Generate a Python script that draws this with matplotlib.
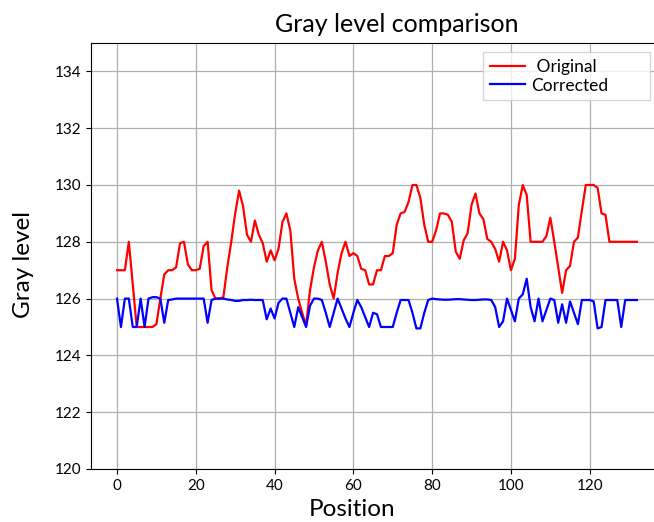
import numpy as np
import matplotlib.pyplot as plt

# gray level along the scan line, before and after correction
original = [127.0, 127.0, 127.0, 128.0, 126.5, 125.0, 125.0, 125.0, 125.0, 125.0,
            125.1, 126.0, 126.85, 127.0, 127.0, 127.1, 127.95, 128.0, 127.2, 127.0,
            127.0, 127.05, 127.85, 128.0, 126.3, 126.0, 126.0, 126.05, 127.1, 128.0,
            129.0, 129.8, 129.25, 128.25, 128.0, 128.75, 128.25, 127.95, 127.3, 127.7,
            127.35, 127.75, 128.7, 129.0, 128.4, 126.7, 126.0, 125.5, 125.05, 126.3,
            127.1, 127.7, 128.0, 127.3, 126.5, 126.0, 126.9, 127.6, 128.0, 127.5,
            127.6, 127.5, 127.05, 127.0, 126.5, 126.5, 127.0, 127.0, 127.5, 127.5,
            127.6, 128.6, 129.0, 129.05, 129.4, 130.0, 130.0, 129.55, 128.6, 128.0,
            128.0, 128.4, 129.0, 129.0, 128.95, 128.7, 127.65, 127.4, 128.05, 128.3,
            129.3, 129.7, 129.0, 128.8, 128.1, 128.0, 127.75, 127.3, 128.0, 127.7,
            127.0, 127.4, 129.3, 130.0, 129.65, 128.0, 128.0, 128.0, 128.0, 128.2,
            128.85, 128.0, 127.1, 126.2, 127.0, 127.15, 128.0, 128.15, 129.1, 130.0,
            130.0, 130.0, 129.9, 129.0, 128.95, 128.0, 128.0, 128.0, 128.0, 128.0,
            128.0, 128.0, 128.0]

corrected = [126.0, 125.0, 126.0, 126.0, 125.0, 125.0, 126.0, 125.0, 126.0, 126.05,
             126.05, 126.0, 125.15, 125.95, 125.97, 126.0, 126.0, 126.0, 126.0, 126.0,
             126.0, 126.0, 126.0, 125.15, 125.95, 126.0, 126.0, 126.0, 125.97, 125.95,
             125.92, 125.92, 125.95, 125.95, 125.96, 125.95, 125.95, 125.95, 125.27, 125.65,
             125.3, 125.85, 126.0, 126.0, 125.5, 125.0, 125.7, 125.35, 125.0, 125.75,
             126.0, 126.0, 125.95, 125.5, 125.0, 125.5, 126.0, 125.65, 125.3, 125.0,
             125.5, 125.95, 125.7, 125.35, 125.0, 125.5, 125.45, 125.0, 125.0, 125.0,
             125.0, 125.5, 125.95, 125.95, 125.95, 125.5, 124.95, 124.95, 125.5, 125.95,
             126.0, 125.98, 125.97, 125.96, 125.96, 125.97, 125.98, 125.98, 125.97, 125.96,
             125.95, 125.95, 125.96, 125.97, 125.97, 125.95, 125.7, 125.0, 125.2, 126.0,
             125.6, 125.2, 126.0, 126.15, 126.7, 125.7, 125.2, 126.0, 125.2, 125.6,
             126.0, 125.95, 125.15, 125.8, 125.15, 125.9, 125.5, 125.1, 125.95, 125.95,
             125.95, 125.9, 124.95, 125.0, 125.95, 125.95, 125.95, 125.95, 125.0, 125.95,
             125.95, 125.95, 125.95]

position = np.arange(len(original))

plt.rcParams['font.family'] = ['Lato', 'DejaVu Sans']

fig = plt.figure(figsize=(6.54, 5.22), dpi=100)
ax = fig.add_axes([91/654, 53/522, 572/654, 426/522])

ax.plot(position, original, 'r', linewidth=1.6, label=' Original')
ax.plot(position, corrected, 'b', linewidth=1.6, label='Corrected')

ax.set_xlim(-6.6, 138.6)
ax.set_ylim(120, 135)
ax.set_xticks(np.arange(0, 121, 20))
ax.set_yticks(np.arange(120, 135, 2))
ax.tick_params(labelsize=11)
ax.grid(True, color='#b0b0b0', linewidth=0.9)

ax.set_title('Gray level comparison', fontsize=18, x=0.535, pad=8)
ax.set_xlabel('Position', fontsize=17.5)
ax.xaxis.set_label_coords(0.456, -0.07)
ax.set_ylabel('Gray level', fontsize=17.5)
ax.yaxis.set_label_coords(-0.1, 0.48)

# legend box stretched across the upper right corner
ax.legend(loc='upper left', bbox_to_anchor=(483/654, 412/522, 167/654, 58/522),
          bbox_transform=fig.transFigure, mode='expand', borderaxespad=0,
          fontsize=12.5, labelspacing=0.15, handletextpad=0.4, fancybox=False)

fig.savefig('out.png', dpi=100)
